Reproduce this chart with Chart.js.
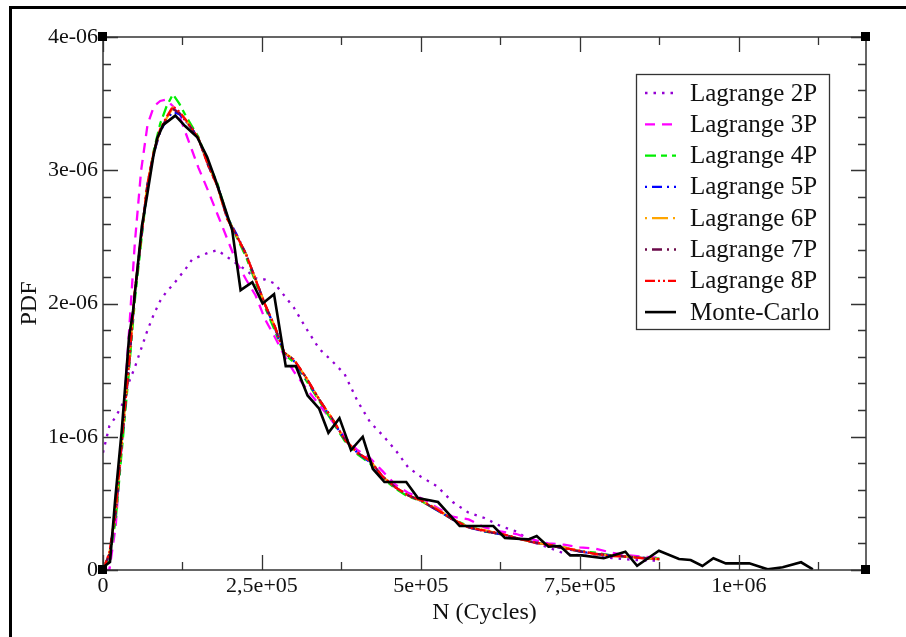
<!DOCTYPE html>
<html>
<head>
<meta charset="utf-8">
<title>PDF - N (Cycles)</title>
<script src="https://cdn.jsdelivr.net/npm/chart.js@4.4.0/dist/chart.umd.min.js"></script>
<style>
  html, body { margin: 0; padding: 0; background: #fff; overflow: hidden; }
  #c { display: block; }
</style>
</head>
<body>
<canvas id="c" width="906" height="637"></canvas>
<script>
// y values are in units of 1e-6 (PDF)
const UNIT = 1e-6;

const xTickVals = [0, 250000, 500000, 750000, 1000000];
const xTickLabels = ['0', '2,5e+05', '5e+05', '7,5e+05', '1e+06'];
const yTickVals = [0, 1e-6, 2e-6, 3e-6, 4e-6];
const yTickLabels = ['0', '1e-06', '2e-06', '3e-06', '4e-06'];

// common abscissa for the Lagrange curves
const lagX = [0, 10000, 20000, 30000, 40000, 50000, 60000, 70000, 80000, 90000,
  100000, 110000, 120000, 130000, 140000, 150000, 165000, 180000, 195000, 210000,
  225000, 240000, 255000, 270000, 285000, 300000, 320000, 340000, 360000, 380000,
  400000, 420000, 440000, 460000, 480000, 500000, 525000, 550000, 575000, 600000,
  625000, 650000, 675000, 700000, 725000, 750000, 775000, 800000, 825000, 850000, 875000];

const lag2P = [0.88, 1.08, 1.15, 1.24, 1.40, 1.52, 1.66, 1.80, 1.92, 2.02,
  2.09, 2.14, 2.20, 2.26, 2.33, 2.35, 2.38, 2.40, 2.35, 2.30,
  2.25, 2.19, 2.18, 2.15, 2.06, 1.97, 1.81, 1.66, 1.57, 1.47,
  1.27, 1.11, 1.01, 0.90, 0.77, 0.70, 0.63, 0.51, 0.43, 0.39,
  0.33, 0.29, 0.21, 0.17, 0.125, 0.11, 0.10, 0.09, 0.08, 0.07, 0.07];

const lag3P = [0, 0.0, 0.33, 1.0, 1.72, 2.45, 3.0, 3.34, 3.48, 3.52,
  3.53, 3.48, 3.41, 3.28, 3.15, 3.02, 2.85, 2.67, 2.49, 2.31,
  2.18, 2.06, 1.88, 1.75, 1.61, 1.49, 1.36, 1.24, 1.12, 1.0,
  0.90, 0.84, 0.74, 0.64, 0.58, 0.54, 0.47, 0.40, 0.38, 0.32,
  0.29, 0.27, 0.23, 0.20, 0.19, 0.17, 0.16, 0.13, 0.11, 0.10, 0.09];

const lag4P = [0, 0.08, 0.38, 0.92, 1.45, 2.02, 2.46, 2.88, 3.15, 3.35,
  3.48, 3.57, 3.50, 3.41, 3.33, 3.25, 3.06, 2.90, 2.66, 2.50,
  2.35, 2.16, 1.97, 1.80, 1.62, 1.56, 1.42, 1.27, 1.12, 0.97,
  0.87, 0.80, 0.69, 0.61, 0.55, 0.52, 0.45, 0.38, 0.33, 0.29,
  0.27, 0.24, 0.21, 0.19, 0.17, 0.14, 0.13, 0.11, 0.10, 0.09, 0.085];

const lag5P = [0, 0.11, 0.43, 0.98, 1.49, 2.07, 2.49, 2.89, 3.13, 3.29,
  3.38, 3.44, 3.42, 3.37, 3.31, 3.24, 3.05, 2.89, 2.65, 2.52,
  2.37, 2.18, 1.99, 1.82, 1.63, 1.57, 1.43, 1.28, 1.13, 0.98,
  0.88, 0.81, 0.70, 0.62, 0.56, 0.52, 0.45, 0.38, 0.32, 0.29,
  0.27, 0.24, 0.21, 0.19, 0.16, 0.14, 0.12, 0.11, 0.10, 0.09, 0.08];

const lag6P = [0, 0.12, 0.44, 0.99, 1.50, 2.08, 2.50, 2.90, 3.14, 3.30,
  3.39, 3.47, 3.43, 3.38, 3.31, 3.24, 3.05, 2.88, 2.64, 2.51,
  2.37, 2.18, 1.99, 1.83, 1.63, 1.58, 1.44, 1.28, 1.14, 0.98,
  0.88, 0.82, 0.70, 0.62, 0.56, 0.52, 0.46, 0.38, 0.32, 0.30,
  0.27, 0.24, 0.21, 0.19, 0.17, 0.14, 0.12, 0.11, 0.10, 0.09, 0.08];

const lag7P = [0, 0.12, 0.44, 0.99, 1.50, 2.08, 2.50, 2.90, 3.14, 3.30,
  3.39, 3.46, 3.43, 3.37, 3.31, 3.24, 3.04, 2.88, 2.64, 2.51,
  2.37, 2.18, 1.99, 1.83, 1.63, 1.58, 1.44, 1.28, 1.14, 0.98,
  0.88, 0.82, 0.70, 0.62, 0.56, 0.52, 0.45, 0.38, 0.32, 0.29,
  0.27, 0.24, 0.21, 0.19, 0.16, 0.14, 0.12, 0.11, 0.10, 0.09, 0.08];

const lag8P = [0, 0.13, 0.45, 1.0, 1.50, 2.09, 2.50, 2.90, 3.14, 3.31,
  3.40, 3.48, 3.44, 3.38, 3.31, 3.24, 3.04, 2.88, 2.64, 2.51,
  2.37, 2.18, 1.99, 1.83, 1.63, 1.58, 1.44, 1.28, 1.14, 0.98,
  0.88, 0.82, 0.70, 0.62, 0.56, 0.525, 0.455, 0.38, 0.32, 0.295,
  0.275, 0.24, 0.21, 0.19, 0.165, 0.145, 0.12, 0.105, 0.10, 0.088, 0.083];

const monteX = [0, 11000, 19000, 29500, 41000, 47400, 61100, 69000, 79000, 85300,
  94700, 113700, 129500, 148000, 163800, 176800, 189500, 203200, 216400, 234800,
  251000, 269000, 287400, 303200, 321700, 340000, 354500, 371900, 390000, 408500,
  424300, 442600, 476900, 495300, 526900, 561000, 613800, 632100, 669000, 682100,
  700600, 718900, 734700, 753200, 787500, 821600, 840000, 874300, 905900, 924200,
  942700, 960000, 979500, 1016400, 1045300, 1069000, 1097900, 1116400];
const monteY = [0.02, 0.06, 0.52, 1.05, 1.75, 1.95, 2.58, 2.80, 3.10, 3.24,
  3.34, 3.41, 3.33, 3.25, 3.10, 2.93, 2.75, 2.55, 2.10, 2.16,
  2.00, 2.07, 1.53, 1.53, 1.31, 1.21, 1.03, 1.14, 0.90, 1.00,
  0.76, 0.66, 0.66, 0.54, 0.51, 0.33, 0.33, 0.24, 0.23, 0.255,
  0.175, 0.18, 0.11, 0.11, 0.088, 0.137, 0.032, 0.145, 0.083, 0.075,
  0.03, 0.088, 0.05, 0.05, 0.005, 0.02, 0.058, 0.005];

const SERIF = '"Liberation Serif", "Times New Roman", serif';

function pts(xs, ys) {
  return xs.map((x, i) => ({ x: x, y: ys[i] * UNIT }));
}

function lagSet(label, ys, color, dash, order) {
  return {
    label: label, data: pts(lagX, ys), borderColor: color, borderDash: dash,
    borderWidth: 2.3, order: order, pointRadius: 0, fill: false
  };
}

const datasets = [
  lagSet('Lagrange 2P', lag2P, '#9400d3', [2.5, 6], 7),
  lagSet('Lagrange 3P', lag3P, '#ff00ff', [10, 7], 6),
  lagSet('Lagrange 4P', lag4P, '#00ee00', [11, 5, 6, 5], 5),
  lagSet('Lagrange 5P', lag5P, '#0000ff', [2, 5, 10, 5], 4),
  lagSet('Lagrange 6P', lag6P, '#ffa500', [2, 5, 16, 5], 3),
  lagSet('Lagrange 7P', lag7P, '#6b0a4a', [2, 5, 10, 5], 2),
  lagSet('Lagrange 8P', lag8P, '#ff0000', [10, 3, 2, 3, 2, 3], 1),
  { label: 'Monte-Carlo', data: pts(monteX, monteY), borderColor: '#000000',
    borderDash: [], borderWidth: 2.6, order: 0, pointRadius: 0, fill: false }
];

// frame, inward ticks, corner squares and the boxed legend
const decor = {
  id: 'decor',
  beforeDraw(chart) {
    const ctx = chart.ctx;
    ctx.save();
    ctx.fillStyle = '#fff';
    ctx.fillRect(0, 0, chart.width, chart.height);
    ctx.restore();
  },
  afterDraw(chart) {
    const ctx = chart.ctx;
    const a = chart.chartArea;
    const xs = chart.scales.x, ys = chart.scales.y;
    ctx.save();
    // outer page frame
    ctx.fillStyle = '#000';
    ctx.fillRect(9, 6, 3, chart.height - 6);
    ctx.fillRect(9, 6, chart.width - 9, 3);

    // plot box
    ctx.strokeStyle = '#333';
    ctx.lineWidth = 1.5;
    ctx.strokeRect(a.left, a.top, a.right - a.left, a.bottom - a.top);

    // x ticks, bottom and top
    ctx.lineWidth = 1.3;
    for (let k = 0; k * 125000 <= 1200000; k++) {
      const px = Math.round(xs.getPixelForValue(k * 125000)) + 0.5;
      const len = k % 2 === 0 ? 15 : 8;
      ctx.beginPath();
      ctx.moveTo(px, a.bottom); ctx.lineTo(px, a.bottom - len);
      ctx.moveTo(px, a.top); ctx.lineTo(px, a.top + len);
      ctx.stroke();
    }
    // y ticks, left and right
    for (let k = 0; k <= 20; k++) {
      const py = Math.round(ys.getPixelForValue(k * 2e-7)) + 0.5;
      const len = k % 5 === 0 ? 15 : 8;
      ctx.beginPath();
      ctx.moveTo(a.left, py); ctx.lineTo(a.left + len, py);
      ctx.moveTo(a.right, py); ctx.lineTo(a.right - len, py);
      ctx.stroke();
    }

    // corner squares
    ctx.fillStyle = '#000';
    [[a.left, a.top], [a.right, a.top], [a.left, a.bottom], [a.right, a.bottom]].forEach(c => {
      ctx.fillRect(c[0] - 5, c[1] - 5, 9, 9);
    });

    // legend
    const lx = 636, ly = 74, lw = 193, lh = 255;
    ctx.fillStyle = '#fff';
    ctx.fillRect(lx, ly, lw, lh);
    ctx.strokeStyle = '#333';
    ctx.lineWidth = 1.3;
    ctx.strokeRect(lx + 0.5, ly + 0.5, lw, lh);
    ctx.font = '25px ' + SERIF;
    ctx.textBaseline = 'middle';
    ctx.textAlign = 'left';
    chart.data.datasets.forEach((d, i) => {
      const ry = ly + 19 + i * 31.3;
      ctx.strokeStyle = d.borderColor;
      ctx.lineWidth = d.borderWidth;
      ctx.setLineDash(d.borderDash || []);
      ctx.beginPath();
      ctx.moveTo(645, ry); ctx.lineTo(676, ry);
      ctx.stroke();
      ctx.setLineDash([]);
      ctx.fillStyle = '#111';
      ctx.fillText(d.label, 690, ry + 1);
    });
    ctx.restore();
  }
};

new Chart(document.getElementById('c').getContext('2d'), {
  type: 'scatter',
  data: { datasets: datasets.map(d => Object.assign({ showLine: true }, d)) },
  options: {
    responsive: false,
    animation: false,
    devicePixelRatio: 1,
    layout: { padding: { left: 0, top: 37, right: 40, bottom: 0 } },
    elements: { line: { tension: 0 }, point: { radius: 0, hoverRadius: 0 } },
    plugins: { legend: { display: false }, tooltip: { enabled: false } },
    scales: {
      x: {
        type: 'linear', min: 0, max: 1200000,
        grid: { display: false, drawTicks: false }, border: { display: false },
        afterBuildTicks: s => { s.ticks = xTickVals.map(v => ({ value: v })); },
        afterFit: s => { s.height = 67; },
        ticks: {
          padding: 3, maxRotation: 0, minRotation: 0, autoSkip: false, color: '#111',
          font: { family: SERIF, size: 22 },
          callback: (v, i) => xTickLabels[i]
        },
        title: {
          display: true, text: 'N (Cycles)', color: '#111',
          font: { family: SERIF, size: 24 }, padding: { top: 0, bottom: 10 }
        }
      },
      y: {
        type: 'linear', min: 0, max: 4e-6,
        grid: { display: false, drawTicks: false }, border: { display: false },
        afterBuildTicks: s => { s.ticks = yTickVals.map(v => ({ value: v })); },
        afterFit: s => { s.width = 103; },
        ticks: {
          padding: 5, color: '#111',
          font: { family: SERIF, size: 22 },
          callback: (v, i) => yTickLabels[i]
        },
        title: {
          display: true, text: 'PDF', color: '#111',
          font: { family: SERIF, size: 24 }, padding: { top: 15, bottom: 0 }
        }
      }
    }
  },
  plugins: [decor]
});
</script>
</body>
</html>
